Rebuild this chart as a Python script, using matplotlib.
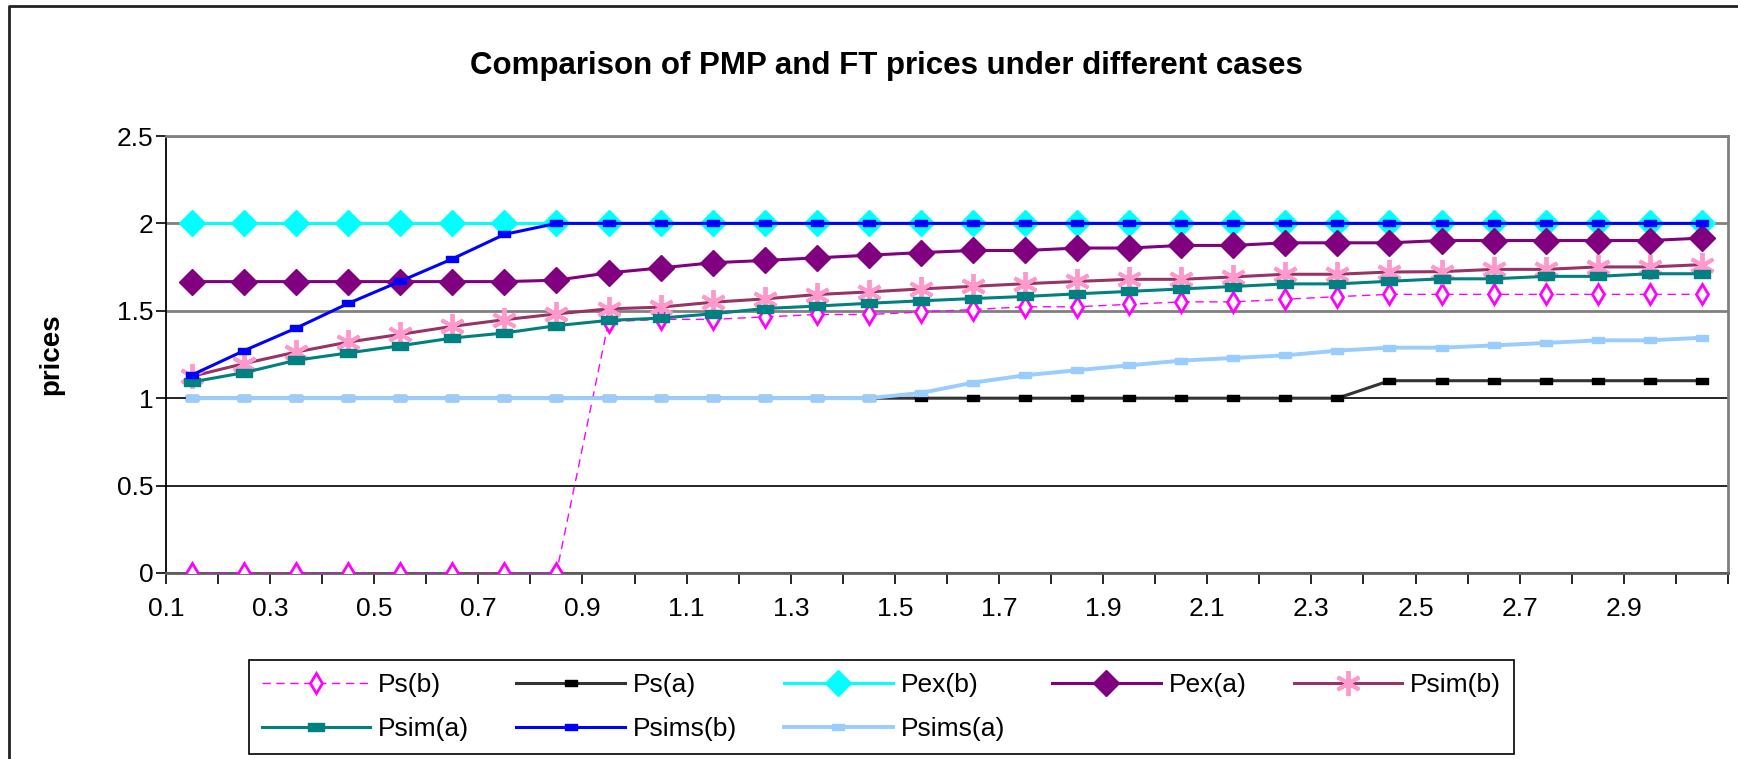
import numpy as np
import matplotlib
matplotlib.use("Agg")
import matplotlib.pyplot as plt
from matplotlib.path import Path

plt.rcParams['font.family'] = ['Liberation Sans', 'DejaVu Sans']

# category axis (values of the varied parameter)
x_cats = ['0.1', '0.2', '0.3', '0.4', '0.5', '0.6', '0.7', '0.8', '0.9', '1.0',
          '1.1', '1.2', '1.3', '1.4', '1.5', '1.6', '1.7', '1.8', '1.9', '2.0',
          '2.1', '2.2', '2.3', '2.4', '2.5', '2.6', '2.7', '2.8', '2.9', '3.0']

ps_b = [0, 0, 0, 0, 0, 0, 0, 0, 1.437, 1.451, 1.451, 1.465, 1.479, 1.479, 1.493,
        1.507, 1.523, 1.523, 1.537, 1.551, 1.551, 1.566, 1.581, 1.594, 1.594,
        1.594, 1.594, 1.594, 1.594, 1.594]
ps_a = [1.0, 1.0, 1.0, 1.0, 1.0, 1.0, 1.0, 1.0, 1.0, 1.0, 1.0, 1.0, 1.0, 1.0, 1.0,
        1.0, 1.0, 1.0, 1.0, 1.0, 1.0, 1.0, 1.0, 1.1, 1.1, 1.1, 1.1, 1.1, 1.1, 1.1]
pex_b = [2.0, 2.0, 2.0, 2.0, 2.0, 2.0, 2.0, 2.0, 2.0, 2.0, 2.0, 2.0, 2.0, 2.0, 2.0,
         2.0, 2.0, 2.0, 2.0, 2.0, 2.0, 2.0, 2.0, 2.0, 2.0, 2.0, 2.0, 2.0, 2.0, 2.0]
pex_a = [1.667, 1.667, 1.667, 1.667, 1.667, 1.667, 1.667, 1.675, 1.717, 1.745,
         1.775, 1.788, 1.803, 1.818, 1.833, 1.845, 1.845, 1.859, 1.859, 1.874,
         1.874, 1.889, 1.889, 1.889, 1.902, 1.902, 1.902, 1.902, 1.902, 1.916]
psim_b = [1.125, 1.198, 1.264, 1.321, 1.365, 1.411, 1.449, 1.482, 1.511, 1.521,
          1.549, 1.568, 1.593, 1.608, 1.625, 1.640, 1.655, 1.668, 1.680, 1.680,
          1.694, 1.709, 1.709, 1.722, 1.724, 1.737, 1.737, 1.751, 1.751, 1.764]
psim_a = [1.093, 1.146, 1.217, 1.259, 1.300, 1.344, 1.373, 1.415, 1.445, 1.458,
          1.483, 1.513, 1.527, 1.543, 1.557, 1.570, 1.582, 1.597, 1.611, 1.625,
          1.639, 1.654, 1.654, 1.669, 1.683, 1.683, 1.697, 1.697, 1.712, 1.712]
psims_b = [1.133, 1.272, 1.401, 1.542, 1.669, 1.797, 1.937, 2.0, 2.0, 2.0,
           2.0, 2.0, 2.0, 2.0, 2.0, 2.0, 2.0, 2.0, 2.0, 2.0,
           2.0, 2.0, 2.0, 2.0, 2.0, 2.0, 2.0, 2.0, 2.0, 2.0]
psims_a = [1.0, 1.0, 1.0, 1.0, 1.0, 1.0, 1.0, 1.0, 1.0, 1.0, 1.0, 1.0, 1.0, 1.0,
           1.03, 1.089, 1.131, 1.160, 1.188, 1.215, 1.230, 1.245, 1.272, 1.289,
           1.289, 1.302, 1.316, 1.331, 1.331, 1.346]

# Excel style "dash" marker
dash = Path([(-1, -0.45), (1, -0.45), (1, 0.45), (-1, 0.45), (-1, -0.45)],
            [Path.MOVETO, Path.LINETO, Path.LINETO, Path.LINETO, Path.CLOSEPOLY])

fig = plt.figure(figsize=(17.38, 7.59), dpi=100)
ax = fig.add_axes([0.0955, 0.2451, 0.8987, 0.5757])

xpos = np.arange(len(x_cats)) + 0.5

h = {}
h['Ps(b)'], = ax.plot(xpos, ps_b, color='#FF00FF', lw=1.0, ls=(0, (6, 4)),
                      marker='d', ms=10, mfc='white', mec='#FF00FF', mew=2)
h['Ps(a)'], = ax.plot(xpos, ps_a, color='#333333', lw=2.2,
                      marker=dash, ms=9, mfc='black', mec='black')
h['Pex(b)'], = ax.plot(xpos, pex_b, color='#00FFFF', lw=2.2,
                       marker='D', ms=13, mfc='#00FFFF', mec='#00FFFF')
h['Pex(a)'], = ax.plot(xpos, pex_a, color='#800080', lw=2.2,
                       marker='D', ms=13, mfc='#800080', mec='#800080')
h['Psim(b)'], = ax.plot(xpos, psim_b, color='#993366', lw=2.2,
                        marker=(6, 2, 0), ms=18, mec='#FF99CC', mew=2.8)
h['Psim(a)'], = ax.plot(xpos, psim_a, color='#008080', lw=2.2,
                        marker=dash, ms=12, mfc='#008080', mec='#008080')
h['Psims(b)'], = ax.plot(xpos, psims_b, color='#0000FF', lw=2.2,
                         marker=dash, ms=9, mfc='#0000FF', mec='#0000FF')
h['Psims(a)'], = ax.plot(xpos, psims_a, color='#99CCFF', lw=2.8,
                         marker=dash, ms=9, mfc='#99CCFF', mec='#99CCFF')

ax.set_xlim(0, len(x_cats))
ax.set_ylim(0, 2.5)
ax.set_yticks([0, 0.5, 1, 1.5, 2, 2.5])
ax.set_yticklabels(['0', '0.5', '1', '1.5', '2', '2.5'])
ax.set_xticks(np.arange(len(x_cats) + 1))
ax.set_xticklabels([x_cats[i] if (i < len(x_cats) and i % 2 == 0) else ''
                    for i in range(len(x_cats) + 1)])
ax.tick_params(axis='x', length=8, width=1.2, direction='out', pad=9, labelsize=19)
ax.tick_params(axis='y', length=7, width=1.2, direction='out', pad=2, labelsize=19)

ax.grid(axis='y', lw=1.2, color='black', zorder=0)
ax.set_axisbelow(True)
for gl, c in zip(ax.get_ygridlines(), ['black', 'black', 'black', '#808080', '#808080', '#808080']):
    gl.set_color(c)
    if c == '#808080':
        gl.set_linewidth(2)

ax.spines['top'].set_color('#808080')
ax.spines['top'].set_linewidth(2)
ax.spines['right'].set_color('#808080')
ax.spines['right'].set_linewidth(2)
ax.spines['left'].set_color('black')
ax.spines['left'].set_linewidth(1.3)
ax.spines['bottom'].set_color('#606060')
ax.spines['bottom'].set_linewidth(2)
for s in ax.spines.values():
    s.set_zorder(1)

ax.set_ylabel('prices', fontsize=20, fontweight='bold', labelpad=38)
fig.text(0.51, 0.913, 'Comparison of PMP and FT prices under different cases',
         ha='center', va='center', fontsize=22.5, fontweight='bold')

order = ['Ps(b)', 'Psim(a)', 'Ps(a)', 'Psims(b)', 'Pex(b)', 'Psims(a)', 'Pex(a)', 'Psim(b)']
leg = fig.legend([h[k] for k in order], order, ncol=5, loc='lower left',
                 bbox_to_anchor=(0.143, 0.006), frameon=True, fancybox=False,
                 fontsize=19, handlelength=4.1, handletextpad=0.3,
                 columnspacing=1.8, borderpad=0.5, labelspacing=0.75,
                 borderaxespad=0)
leg.get_frame().set_edgecolor('black')
leg.get_frame().set_linewidth(1.2)
leg.get_frame().set_facecolor('white')
leg.get_frame().set_alpha(1)
leg.set_zorder(5)

# outer chart border (top and left edges visible)
fig.add_artist(plt.Line2D([0.005, 0.005, 1.0], [0.0, 0.9925, 0.9925],
                          transform=fig.transFigure, color='#222222', lw=2))

fig.savefig('out.png', dpi=100)
